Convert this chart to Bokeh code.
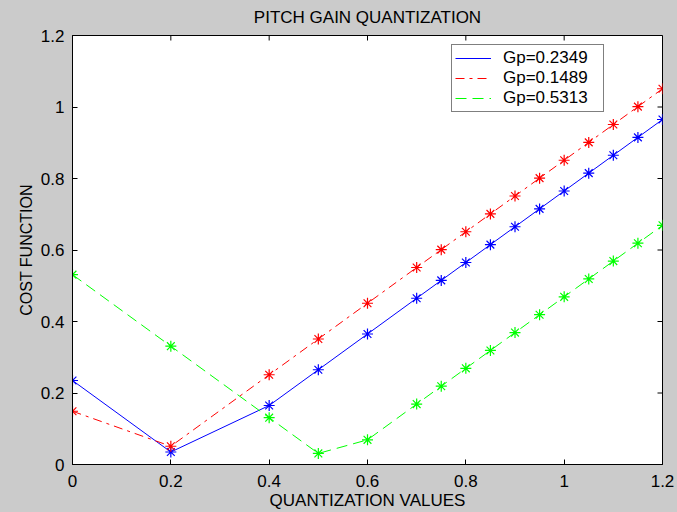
import math
from bokeh.plotting import figure
from bokeh.models import (FixedTicker, Range1d, Legend, LegendItem,
                          GlobalInlineStyleSheet)
from bokeh.embed import file_html
from bokeh.resources import INLINE

# ---- data ----
x_values = [0, 0.2, 0.4, 0.5, 0.6, 0.7, 0.75, 0.8, 0.85, 0.9, 0.95, 1.0, 1.05, 1.1, 1.15, 1.2]
cost_gp_02349 = [0.235, 0.035, 0.165, 0.265, 0.365, 0.465, 0.515, 0.565, 0.615, 0.665,
                 0.715, 0.765, 0.815, 0.865, 0.915, 0.965]
cost_gp_01489 = [0.149, 0.051, 0.251, 0.351, 0.451, 0.551, 0.601, 0.651, 0.701, 0.751,
                 0.801, 0.851, 0.901, 0.951, 1.001, 1.051]
cost_gp_05313 = [0.531, 0.331, 0.131, 0.031, 0.069, 0.169, 0.219, 0.269, 0.319, 0.369,
                 0.419, 0.469, 0.519, 0.569, 0.619, 0.669]
series_labels = ["Gp=0.2349", "Gp=0.1489", "Gp=0.5313"]

x_limits = [0, 1.2]
y_limits = [0, 1.2]
x_ticks = [0, 0.2, 0.4, 0.6, 0.8, 1.0, 1.2]
x_tick_labels = ["0", "0.2", "0.4", "0.6", "0.8", "1", "1.2"]
y_ticks = [0, 0.2, 0.4, 0.6, 0.8, 1.0, 1.2]
y_tick_labels = ["0", "0.2", "0.4", "0.6", "0.8", "1", "1.2"]

TITLE = "PITCH GAIN QUANTIZATION"
X_LABEL = "QUANTIZATION VALUES"
Y_LABEL = "COST FUNCTION"

FONT = "Liberation Sans"
GRAY = "#cbcbcb"
FS = "17px"

p = figure(width=677, height=512,
           x_range=Range1d(*x_limits), y_range=Range1d(*y_limits),
           output_backend="svg", toolbar_location=None,
           min_border_left=72, min_border_right=15,
           min_border_top=34, min_border_bottom=47,
           background_fill_color="white", border_fill_color=GRAY,
           outline_line_color="black", outline_line_width=1,
           title=TITLE)

p.title.text_font = FONT
p.title.text_font_size = FS
p.title.text_font_style = "normal"
p.title.text_color = "black"
p.title.align = "center"
p.title.vertical_align = "top"
p.title.standoff = 14

p.grid.visible = False


def style_axis(ax, ticks, labels):
    ax.ticker = FixedTicker(ticks=ticks)
    ax.major_label_overrides = dict(zip(ticks, labels))
    ax.major_tick_in = 5
    ax.major_tick_out = 0
    ax.major_tick_line_color = "black"
    ax.minor_tick_line_color = None
    ax.axis_line_color = "black"
    ax.major_label_text_font = FONT
    ax.major_label_text_font_size = FS
    ax.major_label_text_color = "black"
    ax.axis_label_text_font = FONT
    ax.axis_label_text_font_size = FS
    ax.axis_label_text_font_style = "normal"
    ax.axis_label_text_color = "black"


xa = p.xaxis[0]
style_axis(xa, x_ticks, x_tick_labels)
xa.axis_label = X_LABEL
xa.major_label_standoff = 10
xa.axis_label_standoff = 1

ya = p.yaxis[0]
style_axis(ya, y_ticks, y_tick_labels)
ya.axis_label = Y_LABEL
ya.axis_label_text_font_size = "16px"
ya.major_label_standoff = 8
ya.axis_label_standoff = 3

# inward tick marks on the top and right edges of the box (MATLAB style)
p.ray(x=x_ticks, y=y_limits[1], length=5, length_units="screen",
      angle=-math.pi / 2, line_color="black", line_width=1)
p.ray(x=x_limits[1], y=y_ticks, length=5, length_units="screen",
      angle=math.pi, line_color="black", line_width=1)

# ---- series ----
l1 = p.line(x_values, cost_gp_02349, line_color="#0000ff", line_width=1)
p.scatter(x_values, cost_gp_02349, marker="asterisk", size=11,
          line_color="#0000ff", line_width=1.2)
l2 = p.line(x_values, cost_gp_01489, line_color="#ff0000", line_width=1,
            line_dash="9 5 3 5")
p.scatter(x_values, cost_gp_01489, marker="asterisk", size=11,
          line_color="#ff0000", line_width=1.2)
l3 = p.line(x_values, cost_gp_05313, line_color="#00ff00", line_width=1,
            line_dash="11 6")
p.scatter(x_values, cost_gp_05313, marker="asterisk", size=11,
          line_color="#00ff00", line_width=1.2)

legend = Legend(items=[LegendItem(label=series_labels[0], renderers=[l1]),
                       LegendItem(label=series_labels[1], renderers=[l2]),
                       LegendItem(label=series_labels[2], renderers=[l3])],
                location=(379, 352), orientation="vertical",
                border_line_color="black", border_line_width=1,
                background_fill_color="white", background_fill_alpha=1.0,
                label_text_font=FONT, label_text_font_size=FS,
                label_text_color="black",
                padding=3, spacing=0, margin=0,
                glyph_width=36, glyph_height=20, label_height=20,
                label_standoff=12, label_width=97)
p.add_layout(legend, "center")

p.stylesheets = [GlobalInlineStyleSheet(css="body { background-color: #cbcbcb; }")]

open("out.html", "w").write(file_html(p, INLINE))
